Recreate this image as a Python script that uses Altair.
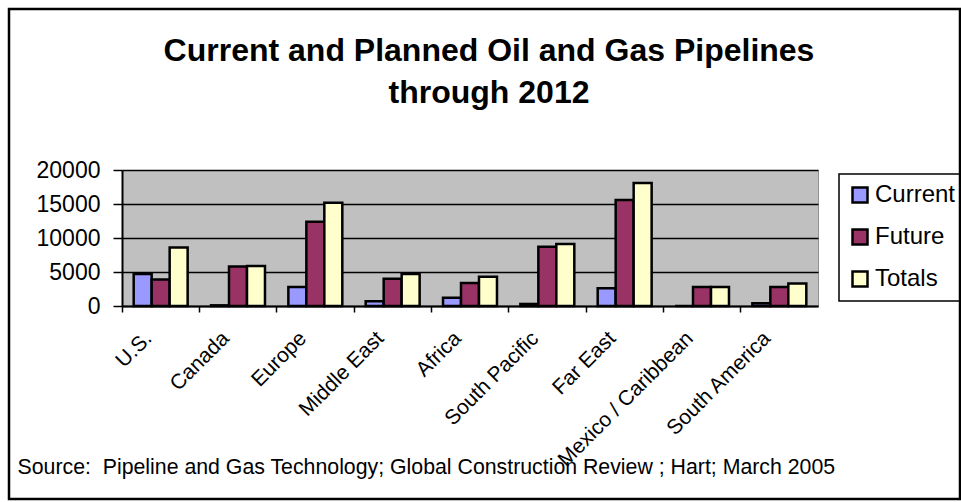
import altair as alt
import pandas as pd

regions = ["U.S.", "Canada", "Europe", "Middle East", "Africa",
           "South Pacific", "Far East", "Mexico / Caribbean", "South America"]
current = [4700, 100, 2800, 700, 1200, 300, 2600, 0, 400]
future = [3900, 5800, 12400, 4000, 3400, 8700, 15600, 2800, 2800]
totals = [8600, 5900, 15200, 4700, 4300, 9100, 18100, 2800, 3300]
series = ["Current", "Future", "Totals"]
colors = ["#9999FF", "#993366", "#FFFFCC"]
y_ticks = [0, 5000, 10000, 15000, 20000]
title_lines = ["Current and Planned Oil and Gas Pipelines", "through 2012"]
source = "Source: \u00a0Pipeline and Gas Technology; Global Construction Review ; Hart; March 2005"

rows = []
for i, r in enumerate(regions):
    for s, vals in zip(series, [current, future, totals]):
        rows.append({"region": r, "series": s, "value": vals[i]})
df = pd.DataFrame(rows)

FONT = "Liberation Sans"
W, H = 696, 136

bars = alt.Chart(df).mark_bar(stroke="black", strokeWidth=2.5, opacity=1).encode(
    x=alt.X("region:N", sort=regions,
            scale=alt.Scale(paddingInner=0, paddingOuter=0),
            axis=alt.Axis(title=source, titleX=-105, titleY=167, titleAlign="left",
                          titleAnchor="start", titleBaseline="alphabetic",
                          titleFont=FONT, titleFontSize=21.3, titleFontWeight="normal",
                          titleColor="black",
                          bandPosition=0, labelOffset=-12, labelLimit=400,
                          labelAngle=315, labelAlign="right", labelBaseline="middle",
                          labelPadding=23, labelFont=FONT, labelFontSize=21,
                          labelColor="black", labelOverlap=False,
                          tickColor="black", tickSize=6, tickWidth=1.5,
                          domainColor="black", domainWidth=2)),
    xOffset=alt.XOffset("series:N", sort=series,
                        scale=alt.Scale(paddingInner=0, paddingOuter=0.65)),
    y=alt.Y("value:Q", scale=alt.Scale(domain=[0, 20000], nice=False),
            axis=alt.Axis(title=None, values=y_ticks, format="d",
                          labelFont=FONT, labelFontSize=23, labelColor="black",
                          labelPadding=13, tickColor="black", tickSize=9,
                          tickWidth=1.5, domainColor="black", domainWidth=2,
                          grid=True, gridColor="black", gridWidth=1.5)),
    fill=alt.Fill("series:N", sort=series,
                  scale=alt.Scale(domain=series, range=colors),
                  legend=alt.Legend(title=None, orient="none", legendX=717, legendY=4,
                                    labelFont=FONT, labelFontSize=24, labelColor="black",
                                    symbolType="square", symbolSize=225,
                                    symbolStrokeColor="black", symbolStrokeWidth=2.5,
                                    symbolOpacity=1, labelOffset=3,
                                    rowPadding=16, padding=9,
                                    strokeColor="black")),
)

border = alt.Chart(pd.DataFrame({"k": [0]})).mark_rect(
    fill=None, stroke="black", strokeWidth=2.5
).encode(x=alt.value(-113), x2=alt.value(838), y=alt.value(-161), y2=alt.value(329))

chart = alt.layer(bars, border).properties(
    width=W, height=H,
    title=alt.TitleParams(text=title_lines, anchor="middle", dx=19, offset=-102,
                          font=FONT, fontSize=32, fontWeight="bold",
                          lineHeight=42, color="black"),
    background="white",
    autosize=alt.AutoSizeParams(type="none"),
    padding={"left": 122, "top": 170, "right": 143, "bottom": 196},
).configure_view(fill="#C0C0C0", stroke="#909090", strokeWidth=1
).configure_legend(strokeWidth=1.5)

chart.save("out.html", embed_options={"renderer": "svg", "actions": False})
